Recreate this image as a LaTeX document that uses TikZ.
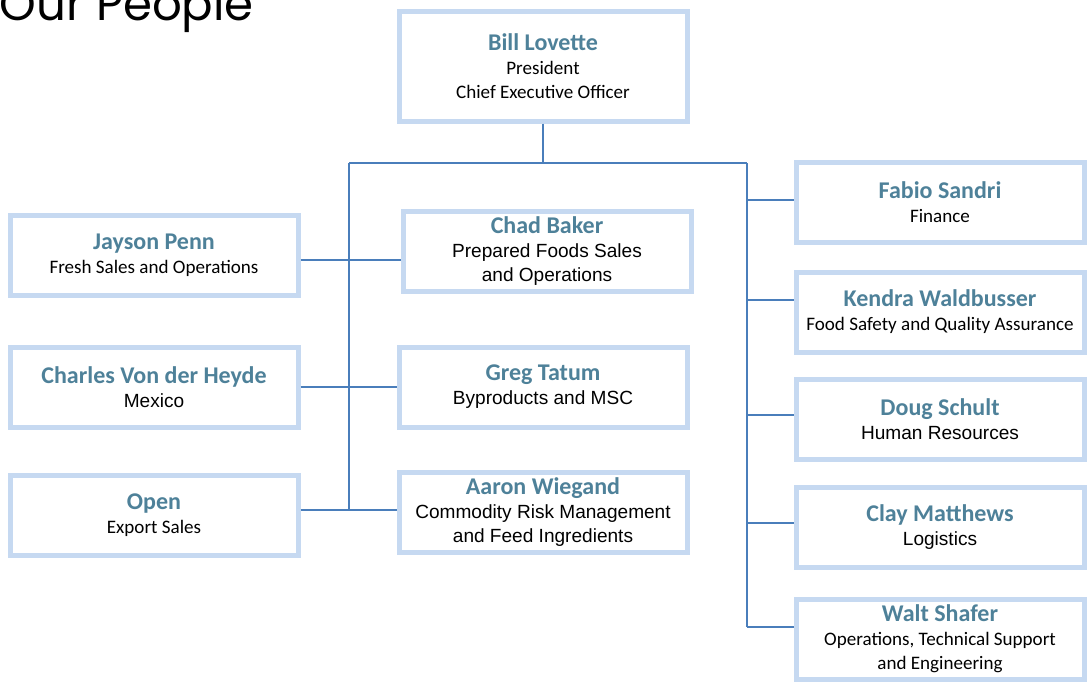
\documentclass[tikz,border=0pt]{standalone}
\usepackage{fontspec}
\setmainfont{Carlito}
\newfontfamily\arialfont{Liberation Sans}
\newfontfamily\titlefont{Poppins}
\definecolor{namecol}{HTML}{4E8199}
\definecolor{boxcol}{HTML}{C6D9F1}
\definecolor{linecol}{HTML}{4A7EBB}
\newcommand{\who}[1]{{\bfseries\fontsize{18}{18}\selectfont\color{namecol}#1}}
\newcommand{\ar}{\arialfont\fontsize{14.3}{18}\selectfont}

\begin{document}
\begin{tikzpicture}[x=0.75pt, y=-0.75pt,
  person/.style={draw=boxcol, line width=3.75pt, fill=white,
    minimum width=216pt, minimum height=60pt, inner sep=2pt},
  chief/.style={person, minimum height=82.5pt},
  link/.style={draw=linecol, line width=1.5pt},
  every node/.style={align=center, font=\fontsize{14.3}{18}\selectfont}]

\path[use as bounding box, clip] (0,0) rectangle (1087,682);

% Title, cut off at the top
\node[anchor=base west, font=\titlefont\fontsize{35}{35}\selectfont] (title) at (-5,20) {Our People};

% Top of the chart
\node[chief] (bill) at (543,66) {\who{Bill Lovette}\\ President\\ Chief Executive Officer};

% Left column
\node[person] (jayson)  at (154,255) {\who{Jayson Penn}\\ Fresh Sales and Operations};
\node[person] (charles) at (154,387) {\who{Charles Von der Heyde}\\ {\ar Mexico}};
\node[person] (open)    at (154,515) {\who{Open}\\ Export Sales};

% Middle column
\node[person] (chad)  at (547,251) {\who{Chad Baker}\\ {\ar Prepared Foods Sales}\\ {\ar and Operations}};
\node[person] (greg)  at (543,387) {\who{Greg Tatum}\\ {\ar Byproducts and MSC}};
\node[person] (aaron) at (543,512) {\who{Aaron Wiegand}\\ {\ar Commodity Risk Management}\\ {\ar and Feed Ingredients}};

% Right column
\node[person] (fabio)  at (940,202) {\who{Fabio Sandri}\\ Finance};
\node[person] (kendra) at (940,312) {\who{Kendra Waldbusser}\\ Food Safety and Quality Assurance};
\node[person] (doug)   at (940,419) {\who{Doug Schult}\\ {\ar Human Resources}};
\node[person] (clay)   at (940,527) {\who{Clay Matthews}\\ {\ar Logistics}};
\node[person] (walt)   at (940,639) {\who{Walt Shafer}\\ Operations, Technical Support\\ and Engineering};

% Bus lines
\coordinate (lbus) at (349,163);
\coordinate (rbus) at (747,163);
\draw[link] (bill.south) -- (bill.south |- lbus);
\draw[link] (lbus) -- (rbus);
\draw[link] (lbus) -- ([yshift=3.75pt]lbus |- open.east);
\draw[link] ([yshift=9pt]rbus |- walt.west) -- (rbus);

% Branches
\draw[link] ([yshift=-3.75pt]jayson.east) -- ([yshift=-3.75pt]jayson.east -| chad.west);
\draw[link] (charles) -- (greg);
\draw[link] ([yshift=3.75pt]open.east) -- ([yshift=3.75pt]open.east -| aaron.west);
\draw[link] ([yshift=1.5pt]rbus |- fabio.west) -- ([yshift=1.5pt]fabio.west);
\draw[link] ([yshift=9pt]rbus |- kendra.west) -- ([yshift=9pt]kendra.west);
\draw[link] ([yshift=3pt]rbus |- doug.west) -- ([yshift=3pt]doug.west);
\draw[link] ([yshift=3pt]rbus |- clay.west) -- ([yshift=3pt]clay.west);
\draw[link] ([yshift=9pt]rbus |- walt.west) -- ([yshift=9pt]walt.west);

\end{tikzpicture}
\end{document}
